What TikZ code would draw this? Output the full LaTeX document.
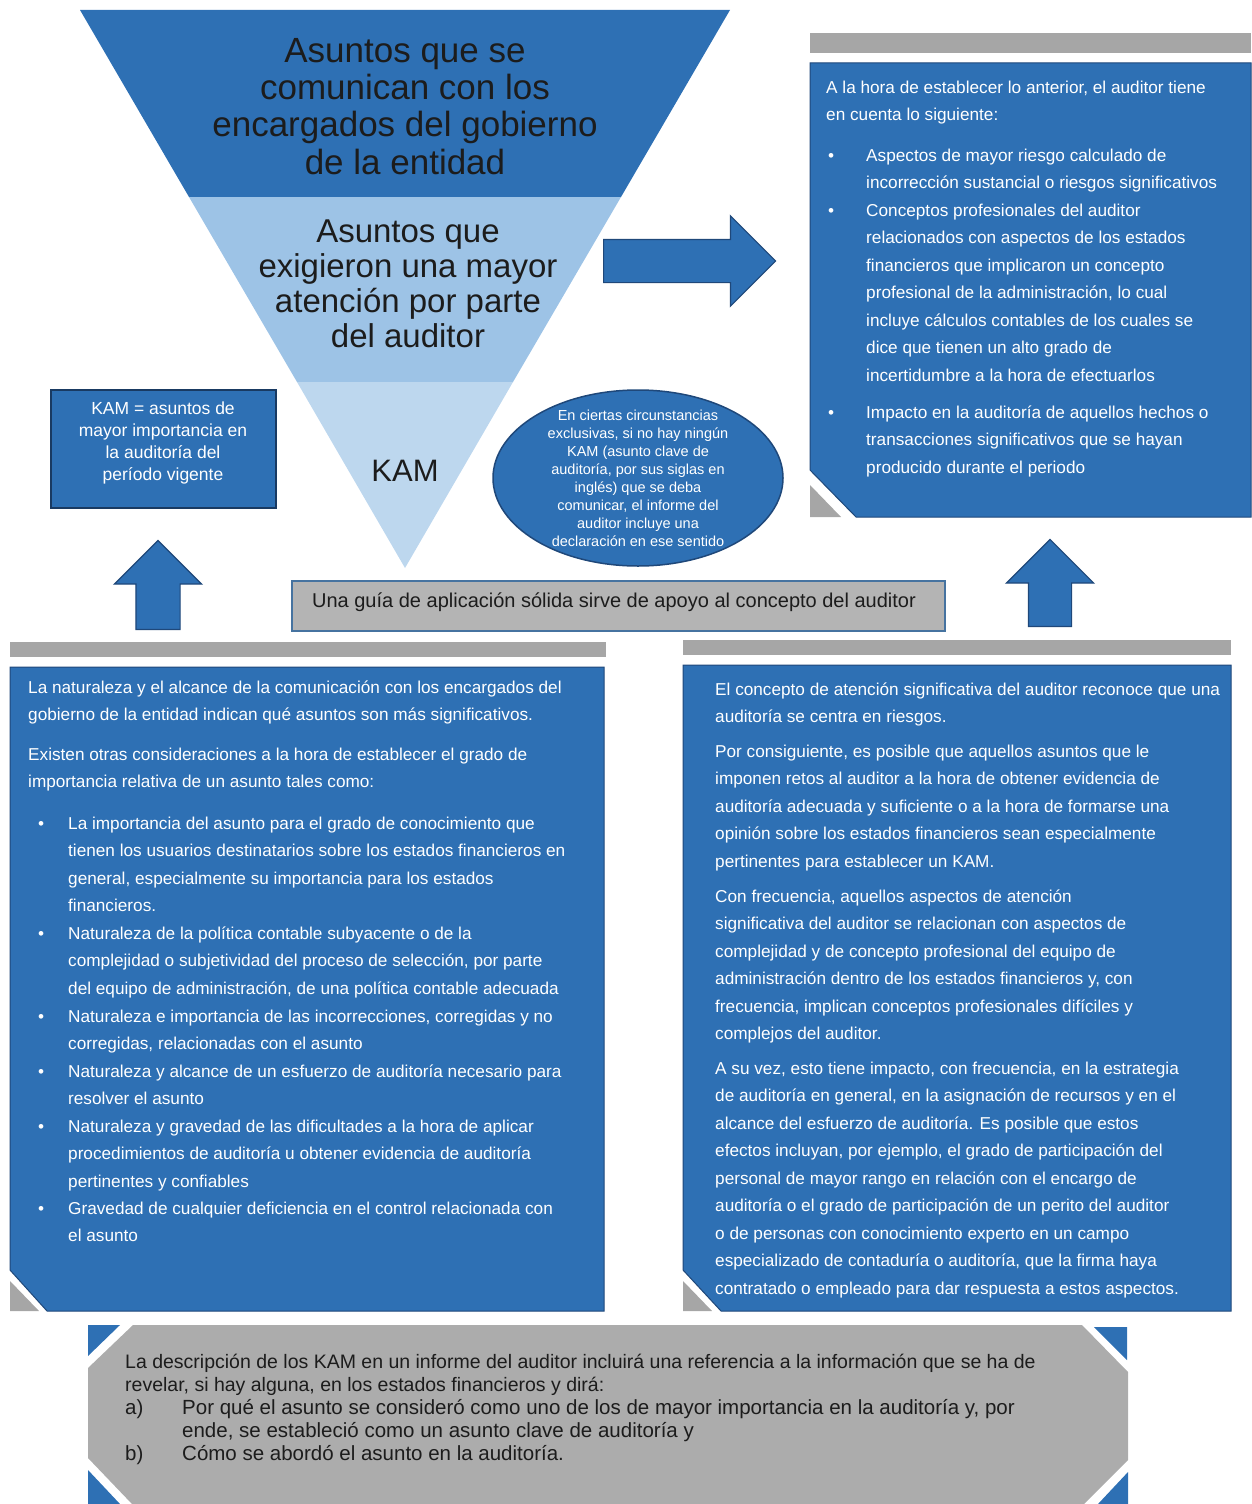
\documentclass[tikz,border=0pt]{standalone}
\usepackage{fontspec}
\setmainfont{Liberation Sans}
\usepackage{xcolor}
\usetikzlibrary{
	positioning,
	shapes.geometric,
	shapes.arrows
}

\definecolor{kamblue}{RGB}{46,112,180}
\definecolor{kamline}{RGB}{31,72,122}
\definecolor{kammid}{RGB}{157,195,230}
\definecolor{kamlight}{RGB}{189,215,238}
\definecolor{bargray}{RGB}{166,166,166}
\definecolor{boxgray}{RGB}{172,172,172}
\definecolor{guidegray}{RGB}{180,180,180}
\definecolor{guideline}{RGB}{70,115,160}
\definecolor{inkgray}{RGB}{28,28,28}

% multi-line nodes sit on the baseline of their last line
\tikzset{
	bluebox/.style={fill=kamblue, draw=kamline, line width=1pt},
	boxtext/.style={text=white, font=\fontsize{17.2}{27.5}\selectfont, align=left, anchor=base west, inner sep=0pt},
	inktext/.style={text=inkgray, align=center, anchor=base, inner sep=0pt},
	desctext/.style={inktext, anchor=base west, align=left},
	blockarrow/.style={single arrow, fill=kamblue, draw=kamline, line width=1.2pt,
		inner xsep=0pt, anchor=tail},
}

\begin{document}
\begin{tikzpicture}[x=1pt, y=-1pt]
	
	\useasboundingbox (0,0) rectangle (1251,1504);
	
	% inverted pyramid
	\fill[kamblue] (80,10) -- (730,10) -- (621,197) -- (189,197) -- cycle;
	\fill[kammid] (189,197) -- (621,197) -- (513,382) -- (297,382) -- cycle;
	\fill[kamlight] (297,382) -- (513,382) -- (405,568) -- cycle;
	
	\node[inktext, font=\fontsize{35}{37.3}\selectfont] (tri-top) at (405,174)
	{Asuntos que se\\comunican con los\\encargados del gobierno\\de la entidad};
	\node[inktext, font=\fontsize{33}{34.7}\selectfont] (tri-mid) at (408,347)
	{Asuntos que\\exigieron una mayor\\atención por parte\\del auditor};
	\node[inktext, font=\fontsize{31}{31}\selectfont] (tri-kam) at (405,481) {KAM};
	
	% KAM definition
	\node[bluebox, draw=kamline!80!black, line width=2pt, minimum width=225pt, minimum height=118pt] (kam-box) at (163.5,449) {};
	\node[inktext, text=white, font=\fontsize{17.5}{22}\selectfont] (kam-txt) at (163,480)
	{KAM = asuntos de\\mayor importancia en\\la auditoría del\\período vigente};
	
	% ellipse
	\node[ellipse, bluebox, line width=1.5pt, inner sep=0pt, minimum width=290pt, minimum height=176pt] (excl) at (638,478) {};
	\node[inktext, text=white, font=\fontsize{14.5}{18}\selectfont] (excl-txt) at (638,546)
	{En ciertas circunstancias\\exclusivas, si no hay ningún\\KAM (asunto clave de\\auditoría, por sus siglas en\\inglés) que se deba\\comunicar, el informe del\\auditor incluye una\\declaración en ese sentido};
	
	% block arrows
	\node[blockarrow, inner ysep=21pt, single arrow head extend=23.5pt, minimum height=172pt] (arr-right) at (603,261) {};
	\node[blockarrow, rotate=90, inner ysep=21.5pt, single arrow head extend=21.5pt, minimum height=89pt] (arr-left) at (158,630) {};
	\node[blockarrow, rotate=90, inner ysep=21pt, single arrow head extend=22pt, minimum height=87pt] (arr-up) at (1050,627) {};
	
	% application guide
	\node[fill=guidegray, draw=guideline, line width=2pt, minimum width=653pt, minimum height=50pt] (guide) at (618.5,606) {};
	\node[inktext, font=\fontsize{20}{24}\selectfont] (guide-txt) at (614,607)
	{Una guía de aplicación sólida sirve de apoyo al concepto del auditor};
	
	% upper right box
	\fill[bargray] (810,33) rectangle (1251,53);
	\fill[bargray] (810,485) -- (841,517) -- (810,517) -- cycle;
	\draw[bluebox] (810,63) -- (1251,63) -- (1251,517) -- (856,517) -- (810,470) -- cycle;
	
	\node[boxtext] (tr-p1) at (826,120.5) {A la hora de establecer lo anterior, el auditor tiene\\en cuenta lo siguiente:};
	\node[boxtext] (tr-d1) at (828,161) {•};
	\node[boxtext] (tr-b1) at (866,188.5) {Aspectos de mayor riesgo calculado de\\incorrección sustancial o riesgos significativos};
	\node[boxtext] (tr-d2) at (828,216) {•};
	\node[boxtext] (tr-b2) at (866,381) {Conceptos profesionales del auditor\\relacionados con aspectos de los estados\\financieros que implicaron un concepto\\profesional de la administración, lo cual\\incluye cálculos contables de los cuales se\\dice que tienen un alto grado de\\incertidumbre a la hora de efectuarlos};
	\node[boxtext] (tr-d3) at (828,418) {•};
	\node[boxtext] (tr-b3) at (866,473) {Impacto en la auditoría de aquellos hechos o\\transacciones significativos que se hayan\\producido durante el periodo};
	
	% lower left box
	\fill[bargray] (10,642) rectangle (606,657);
	\fill[bargray] (10,1281) -- (39,1311) -- (10,1311) -- cycle;
	\draw[bluebox] (10,667) -- (604,667) -- (604,1311) -- (47,1311) -- (10,1270) -- cycle;
	
	\node[boxtext] (l-p1) at (28,720.5) {La naturaleza y el alcance de la comunicación con los encargados del\\gobierno de la entidad indican qué asuntos son más significativos.};
	\node[boxtext] (l-p2) at (28,787.5) {Existen otras consideraciones a la hora de establecer el grado de\\importancia relativa de un asunto tales como:};
	\foreach \y in {829,939,1022,1077,1132,1214}
	\node[boxtext] (l-d\y) at (38,\y) {•};
	\node[boxtext] (l-b1) at (68,911.5) {La importancia del asunto para el grado de conocimiento que\\tienen los usuarios destinatarios sobre los estados financieros en\\general, especialmente su importancia para los estados\\financieros.};
	\node[boxtext] (l-b2) at (68,994) {Naturaleza de la política contable subyacente o de la\\complejidad o subjetividad del proceso de selección, por parte\\del equipo de administración, de una política contable adecuada};
	\node[boxtext] (l-b3) at (68,1049.5) {Naturaleza e importancia de las incorrecciones, corregidas y no\\corregidas, relacionadas con el asunto};
	\node[boxtext] (l-b4) at (68,1104.5) {Naturaleza y alcance de un esfuerzo de auditoría necesario para\\resolver el asunto};
	\node[boxtext] (l-b5) at (68,1187) {Naturaleza y gravedad de las dificultades a la hora de aplicar\\procedimientos de auditoría u obtener evidencia de auditoría\\pertinentes y confiables};
	\node[boxtext] (l-b6) at (68,1241.5) {Gravedad de cualquier deficiencia en el control relacionada con\\el asunto};
	
	% lower right box
	\fill[bargray] (683,640) rectangle (1231,655);
	\fill[bargray] (683,1281) -- (712,1311) -- (683,1311) -- cycle;
	\draw[bluebox] (683,665) -- (1231,665) -- (1231,1311) -- (721,1311) -- (683,1270) -- cycle;
	
	\node[boxtext] (r-p1) at (715,722.5) {El concepto de atención significativa del auditor reconoce que una\\auditoría se centra en riesgos.};
	\node[boxtext] (r-p2) at (715,867) {Por consiguiente, es posible que aquellos asuntos que le\\imponen retos al auditor a la hora de obtener evidencia de\\auditoría adecuada y suficiente o a la hora de formarse una\\opinión sobre los estados financieros sean especialmente\\pertinentes para establecer un KAM.};
	\node[boxtext] (r-p3) at (715,1039.5) {Con frecuencia, aquellos aspectos de atención\\significativa del auditor se relacionan con aspectos de\\complejidad y de concepto profesional del equipo de\\administración dentro de los estados financieros y, con\\frecuencia, implican conceptos profesionales difíciles y\\complejos del auditor.};
	\node[boxtext] (r-p4) at (715,1294) {A su vez, esto tiene impacto, con frecuencia, en la estrategia\\de auditoría en general, en la asignación de recursos y en el\\alcance del esfuerzo de auditoría. Es posible que estos\\efectos incluyan, por ejemplo, el grado de participación del\\personal de mayor rango en relación con el encargo de\\auditoría o el grado de participación de un perito del auditor\\o de personas con conocimiento experto en un campo\\especializado de contaduría o auditoría, que la firma haya\\contratado o empleado para dar respuesta a estos aspectos.};
	
	% description of the KAM
	\fill[kamblue] (88,1325) -- (120,1325) -- (88,1356) -- cycle;
	\fill[kamblue] (1094,1327) -- (1127,1327) -- (1127,1360) -- cycle;
	\fill[kamblue] (88,1470) -- (88,1504) -- (120,1504) -- cycle;
	\fill[kamblue] (1128,1472) -- (1128,1504) -- (1098,1504) -- cycle;
	\fill[boxgray] (133,1325) -- (1082,1325) -- (1128,1372) -- (1128,1460) -- (1084,1504)
	-- (132,1504) -- (88,1458) -- (88,1368) -- cycle;
	
	\node[desctext, font=\fontsize{19.5}{23}\selectfont] (d-p) at (125,1391)
	{La descripción de los KAM en un informe del auditor incluirá una referencia a la información que se ha de\\revelar, si hay alguna, en los estados financieros y dirá:};
	\node[desctext, font=\fontsize{20.5}{23}\selectfont] (d-a) at (125,1414) {a)};
	\node[desctext, font=\fontsize{20.5}{23}\selectfont] (d-at) at (182,1437)
	{Por qué el asunto se consideró como uno de los de mayor importancia en la auditoría y, por\\ende, se estableció como un asunto clave de auditoría y};
	\node[desctext, font=\fontsize{20.5}{23}\selectfont] (d-b) at (125,1460) {b)};
	\node[desctext, font=\fontsize{20.5}{23}\selectfont] (d-bt) at (182,1460)
	{Cómo se abordó el asunto en la auditoría.};
	
\end{tikzpicture}
\end{document}
